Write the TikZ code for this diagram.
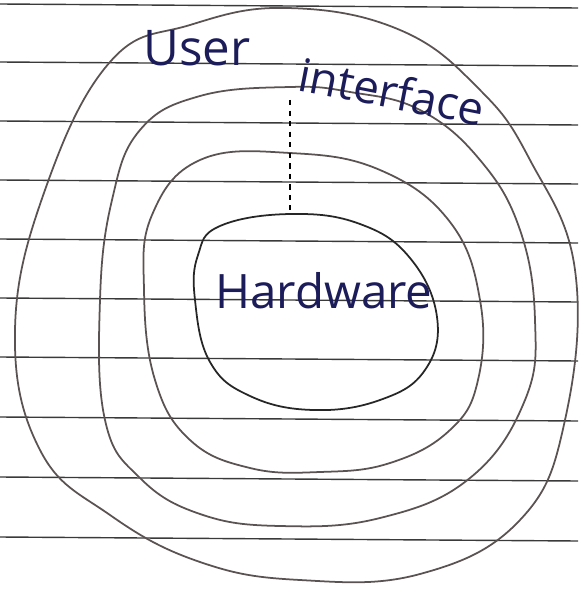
\documentclass[tikz,border=0pt]{standalone}
\usepackage{fontspec}
\setmainfont{Open Sans}
\usetikzlibrary{positioning}
\definecolor{ink}{HTML}{1c1c5a}
\definecolor{pencil}{HTML}{5b5252}
\definecolor{rule}{HTML}{3a3a3a}

\begin{document}
\begin{tikzpicture}[x=0.02cm, y=-0.02cm,
  ring/.style={draw=pencil, line width=1pt},
  ruling/.style={draw=rule, line width=0.8pt},
  lbl/.style={text=ink, inner sep=0pt, anchor=base west},
  guide/.style={draw=black, dashed, line width=1pt}
]
  \fill[white] (0,0) rectangle (578,591);
  \useasboundingbox (0,0) rectangle (578,591);

  % ruled paper
  \foreach \y in {4,62,121,180,239,298,357,417,477,537}
    \draw[ruling] (0,\y) -- (578,\y+4);

  % rings, outside in
  \draw[ring] plot[smooth cycle, tension=0.7] coordinates {
    (287,8) (190,25) (110,62) (45,190) (15,330) (40,450) (110,515)
    (200,562) (300,580) (420,574) (520,520) (565,420) (575,270)
    (530,160) (480,90) (400,30)};
  \draw[ring] plot[smooth cycle, tension=0.7] coordinates {
    (290,87) (200,96) (140,130) (112,200) (100,300) (105,420) (140,478)
    (200,514) (280,526) (380,518) (470,478) (525,400) (535,320)
    (520,230) (480,160) (420,110) (350,92)};
  \draw[ring] plot[smooth cycle, tension=0.7] coordinates {
    (200,160) (290,153) (380,170) (450,222) (480,300) (478,380)
    (450,430) (390,463) (320,472) (250,468) (190,440) (155,380)
    (144,290) (152,215)};
  \draw[ring, draw=black!85] plot[smooth cycle, tension=0.7] coordinates {
    (220,226) (291,214) (360,224) (410,258) (437,317) (425,370)
    (380,400) (313,410) (250,396) (210,362) (195,300) (198,255)};

  % labels
  \node[lbl, font=\fontsize{28}{28}\selectfont] (user) at (143,66) {User};
  \node[lbl, font=\fontsize{26}{26}\selectfont, rotate=-11] (iface) at (296,90) {interface};
  \node[lbl, font=\fontsize{27}{27}\selectfont] (hw) at (215,308) {Hardware};

  \coordinate (uitip) at (290,100);
  \coordinate (hwtop) at (290,210);
  \draw[guide] (uitip) -- (hwtop);
\end{tikzpicture}
\end{document}
